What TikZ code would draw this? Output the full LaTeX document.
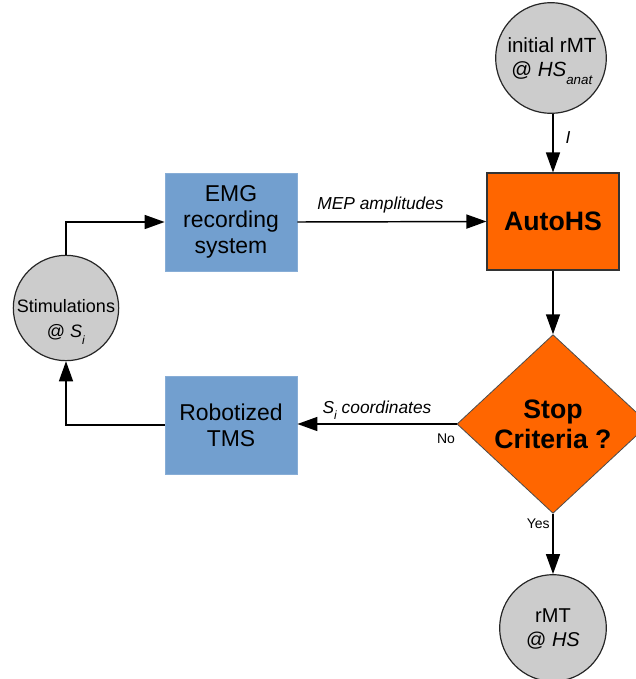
\documentclass[tikz,border=0pt]{standalone}
\usepackage{fontspec}
\setmainfont{Liberation Sans}
\usetikzlibrary{shapes.geometric,arrows.meta}
\definecolor{boxblue}{RGB}{114,159,207}
\definecolor{autoorange}{RGB}{255,102,0}
\definecolor{circgray}{RGB}{204,204,204}
\tikzset{
  arr/.style={-{Triangle[length=15pt,width=10.5pt]}, line width=1.1pt},
  bluebox/.style={rectangle, fill=boxblue, draw=boxblue!85!white, line width=0.6pt,
    minimum width=99pt, minimum height=73.5pt, align=center,
    font=\fontsize{17.2}{19.5}\selectfont},
  autobox/.style={rectangle, fill=autoorange, draw=black!80, line width=0.8pt,
    minimum width=99pt, minimum height=72.75pt, font=\fontsize{20}{24}\selectfont\bfseries},
  circ/.style={circle, fill=circgray, draw=black!85, line width=0.9pt, inner sep=0pt},
  dia/.style={diamond, fill=autoorange, draw=black!70, line width=0.6pt, inner sep=0pt,
    minimum width=144pt, minimum height=134pt, align=center,
    font=\fontsize{20}{22.5}\selectfont\bfseries},
  ctext/.style={align=center, inner sep=0pt},
  lab/.style={font=\fontsize{13}{15}\selectfont\itshape, inner sep=1pt},
  yn/.style={font=\fontsize{10.5}{12}\selectfont, inner sep=1pt}
}
\begin{document}
\begin{tikzpicture}[x=0.75pt,y=-0.75pt]
\useasboundingbox (0,0) rectangle (636,679);
\clip (0,0) rectangle (636,679);

% nodes
\node[circ, minimum size=83pt] (init) at (551,58) {};
\node[ctext, font=\fontsize{15.4}{18}\selectfont] (inittxt) at (552,61)
  {initial rMT\\@ \textit{HS}\raisebox{-6pt}{\fontsize{10}{10}\selectfont\textit{anat}}};

\node[autobox] (auto) at (553,221.5) {AutoHS};
\node[dia] (stop) at (553,424) {Stop\\Criteria ?};

\node[circ, minimum size=80pt] (rmt) at (553,628) {};
\node[ctext, font=\fontsize{15}{17.5}\selectfont] (rmttxt) at (553,629) {rMT\\@ \textit{HS}};

\node[bluebox] (emg) at (231,222) {EMG\\recording\\system};
\node[bluebox] (tms) at (231,425) {Robotized\\TMS};

\node[circ, minimum size=79pt] (stim) at (66,308) {};
\node[ctext, font=\fontsize{13.5}{18.75}\selectfont] (stimtxt) at (66,322)
  {Stimulations\\@ \textit{S}\raisebox{-5pt}{\fontsize{9}{9}\selectfont\textit{i}}};

% connectors
\draw[arr] (init.south -| auto.north) -- node[lab, pos=0.4, right=8pt] (ilab) {I} (auto.north);
\draw[arr] (auto.south) -- (stop.north);
\draw[arr] (stop.west) -- node[lab, above=2pt, pos=0.5] (silab)
  {\textit{S}\raisebox{-4pt}{\fontsize{9}{9}\selectfont\textit{i}} coordinates} (stop.west -| tms.east);
\node[yn, anchor=north east] (nolab) at ([yshift=-6pt]stop.west) {No};
\draw[arr] (tms.west) -| (stim.south);
\draw[arr] (stim.north) |- (emg.west);
\draw[arr] (emg.east) -- node[lab, above=5pt, pos=0.44] (meplab) {MEP amplitudes} (auto.west);
\draw[arr] (stop.south) -- node[yn, left=1pt, pos=0.17] (yeslab) {Yes} (rmt.north);
\end{tikzpicture}
\end{document}
